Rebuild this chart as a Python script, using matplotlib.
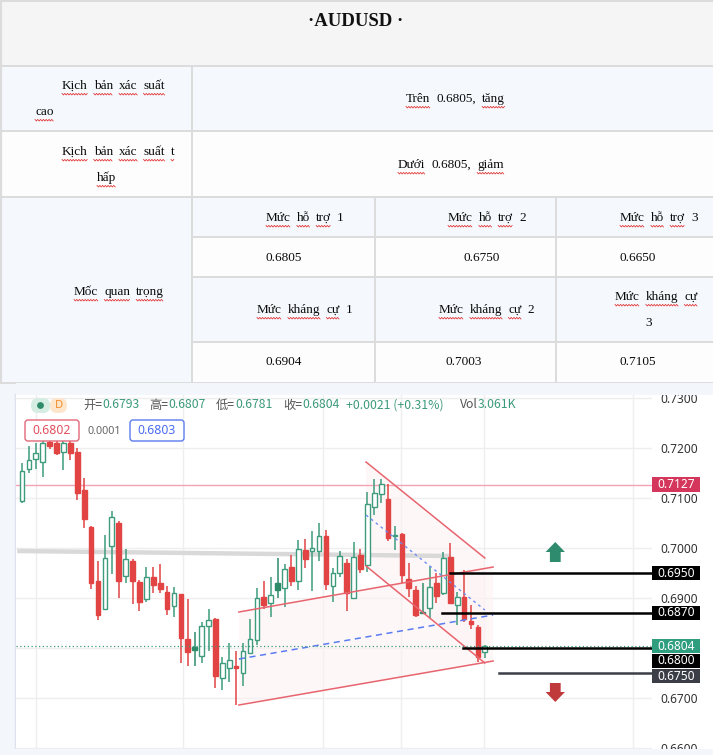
import numpy as np
import matplotlib
matplotlib.use("Agg")
import matplotlib.pyplot as plt
from matplotlib.patches import Rectangle, Polygon, FancyBboxPatch, Circle

W, H = 713, 755

# ---- table content ----
title = "·AUDUSD ·"
scen_high = ["Kịch", "bản", "xác", "suất"]
scen_high_2 = ["cao"]
scen_high_txt = ["Trên", "0.6805,", "tăng"]
scen_low = ["Kịch", "bản", "xác", "suất", "t"]
scen_low_2 = ["hấp"]
scen_low_txt = ["Dưới", "0.6805,", "giảm"]
key_label = ["Mốc", "quan", "trọng"]
support_names = ["Mức hỗ trợ 1", "Mức hỗ trợ 2", "Mức hỗ trợ 3"]
support_vals = ["0.6805", "0.6750", "0.6650"]
resist_names = ["Mức kháng cự 1", "Mức kháng cự 2", "Mức kháng cự"]
resist_vals = ["0.6904", "0.7003", "0.7105"]

# ---- daily candles (open, high, low, close) ----
opens = [.7094, .7158, .7178, .7172, .7212, .7210, .7192, .7210, .7192, .7116,
         .7042, .6934, .6878, .7004, .7050, .6944, .6974, .6932, .6898, .6942,
         .6930, .6912, .6884, .6908, .6818, .6802, .6784, .6844, .6858, .6740,
         .6760, .6764, .6750, .6790, .6816, .6902, .6890, .6930, .6920, .6962,
         .6934, .6996, .6994, .6994, .7024, .6924, .6950, .6970, .6900, .6986,
         .6966, .7082, .7108, .7098, .7024, .7028, .6938, .6916, .6872, .6880,
         .6930, .6910, .6982, .6886, .6902, .6854, .6842, .6793]
highs = [.7170, .7204, .7210, .7222, .7236, .7216, .7216, .7216, .7200, .7140,
         .7044, .6974, .7026, .7074, .7054, .6998, .6978, .6936, .6962, .6962,
         .6968, .6924, .6922, .6908, .6898, .6832, .6852, .6878, .6860, .6782,
         .6810, .6794, .6810, .6858, .6920, .6934, .6942, .6980, .6968, .6986,
         .7016, .7018, .7034, .7050, .7036, .6960, .6994, .6978, .7012, .6998,
         .7112, .7138, .7138, .7128, .7044, .7030, .6970, .6924, .6930, .6964,
         .6950, .6992, .7010, .6912, .6956, .6886, .6846, .6807]
lows = [.7090, .7150, .7158, .7142, .7198, .7186, .7156, .7176, .7096, .7040,
        .6918, .6856, .6876, .6948, .6900, .6930, .6888, .6874, .6892, .6910,
        .6910, .6866, .6862, .6770, .6764, .6764, .6770, .6794, .6720, .6716,
        .6732, .6686, .6724, .6788, .6806, .6878, .6862, .6900, .6882, .6924,
        .6916, .6960, .6914, .6974, .6916, .6892, .6942, .6874, .6900, .6950,
        .6952, .7066, .7090, .7014, .6996, .6930, .6902, .6862, .6868, .6860,
        .6890, .6906, .6888, .6846, .6852, .6838, .6772, .6781]
closes = [.7154, .7176, .7190, .7210, .7204, .7190, .7210, .7190, .7110, .7058,
          .6930, .6866, .6980, .7062, .6934, .6978, .6934, .6892, .6942, .6926,
          .6918, .6878, .6910, .6820, .6792, .6796, .6844, .6856, .6744, .6770,
          .6776, .6760, .6794, .6818, .6900, .6886, .6906, .6916, .6958, .6934,
          .6998, .6978, .7000, .7024, .6928, .6950, .6984, .6910, .6982, .6958,
          .7088, .7110, .7128, .7020, .7026, .6946, .6920, .6866, .6870, .6922,
          .6904, .6980, .6890, .6902, .6858, .6848, .6782, .6804]

ohlc_header = [("开=", "0.6793"), ("高=", "0.6807"), ("低=", "0.6781"), ("收=", "0.6804")]
change_txt = "+0.0021 (+0.31%)"
vol_txt = "3.061K"

price_ticks = [0.73, 0.72, 0.71, 0.70, 0.69, 0.67, 0.66]
grid_prices = [0.73, 0.72, 0.71, 0.70, 0.69, 0.68, 0.67, 0.66]
time_grid = [2.0, 23.3, 43.6, 54.8, 66.9, 88.4]

last_price = 0.6804
top_line = 0.7127
level_prices = [0.6950, 0.6870, 0.6800, 0.6750]
level_start = [61.9, 60.8, 63.8, 69.0]
gray_line = ([-0.7, 61.9], [0.6994, 0.6984])

# drawn channels: (x0, x1), (y0, y1)
asc_top = ([31.4, 68.2], [0.6872, 0.6962])
asc_bot = ([31.4, 68.2], [0.6686, 0.6774])
asc_mid = ([31.4, 68.2], [0.6778, 0.6866])
desc_top = ([49.8, 67.0], [0.7172, 0.6980])
desc_bot = ([49.8, 67.0], [0.6964, 0.6770])
desc_mid = ([49.8, 67.0], [0.7066, 0.6876])

GREEN = "#3f9b7d"
GREEN_F = "#2e8b6a"
RED = "#e24444"
SERIF = "Liberation Serif"
CJK = ["Noto Sans CJK SC", "DejaVu Sans"]

fig = plt.figure(figsize=(W / 100, H / 100), dpi=100)
fig.patch.set_facecolor("white")
bg = fig.add_axes([0, 0, 1, 1])
bg.set_xlim(0, W)
bg.set_ylim(H, 0)
bg.axis("off")
renderer = fig.canvas.get_renderer()

# ---- table backgrounds and borders ----
bg.add_patch(Rectangle((0, 0), W, 66, fc="#f5f5f5", ec="none"))
bg.add_patch(Rectangle((0, 66), W, 65, fc="#f5f9fd", ec="none"))
bg.add_patch(Rectangle((0, 131), W, 66, fc="#fdfdfd", ec="none"))
bg.add_patch(Rectangle((0, 197), 192, 186, fc="#f5f9fd", ec="none"))
bg.add_patch(Rectangle((192, 197), W - 192, 40, fc="#f5f9fd", ec="none"))
bg.add_patch(Rectangle((192, 237), W - 192, 40, fc="#fdfdfd", ec="none"))
bg.add_patch(Rectangle((192, 277), W - 192, 65, fc="#f5f9fd", ec="none"))
bg.add_patch(Rectangle((192, 342), W - 192, 41, fc="#fdfdfd", ec="none"))
bg.add_patch(Rectangle((0, 383), W, 12, fc="#f3f6fb", ec="none"))
bg.add_patch(Rectangle((0, 395), 16, 360, fc="#f3f6fb", ec="none"))
bg.add_patch(Rectangle((0, 749), W, 6, fc="#f3f6fb", ec="none"))

lc = "#dcdcdc"
for y in [1, 66, 131, 197, 383]:
    bg.plot([0, W], [y, y], color=lc, lw=1.4)
for y in [237, 277, 342]:
    bg.plot([192, W], [y, y], color=lc, lw=1.4)
bg.plot([1, 1], [0, 383], color=lc, lw=1.6)
bg.plot([192, 192], [66, 383], color=lc, lw=1.4)
for x in [375, 556]:
    bg.plot([x, x], [197, 383], color=lc, lw=1.4)
bg.plot([16, 16], [395, 749], color="#dde3ec", lw=2.5)


def squiggle(x0, x1, y):
    xs = np.arange(x0, x1 + 0.1, 1.4)
    ys = y + np.where(np.arange(len(xs)) % 2, 1.0, -0.6)
    bg.plot(xs, ys, color="#e02a2a", lw=0.55)


def words(x, y, items, under=True, size=9.5, gap=6):
    for w in items:
        t = bg.text(x, y, w, fontsize=size, family=SERIF, va="center",
                    ha="left", color="#0a0a0a")
        wpx = t.get_window_extent(renderer).width
        is_num = any(ch.isdigit() for ch in w)
        if under and not is_num:
            squiggle(x, x + wpx, y + 8)
        x += wpx + gap


bg.text(356, 21, title, fontsize=13.5, family=SERIF, weight="bold",
        ha="center", va="center", color="#111111")
words(62, 86, scen_high)
words(35, 112, scen_high_2)
words(406, 99, scen_high_txt)
words(62, 152, scen_low)
words(97, 178, scen_low_2)
words(398, 165, scen_low_txt)
words(74, 292, key_label)
for x, name in zip([266, 448, 620], support_names):
    words(x, 218, name.split(" "))
for x, v in zip([265, 464, 619], support_vals):
    words(x, 258, [v])
for x, name in zip([257, 439, 615], resist_names):
    words(x, 310 if x < 600 else 297, name.split(" "))
words(645, 323, ["3"])
for x, v in zip([265, 446, 619], resist_vals):
    words(x, 362, [v])

# ---- candlestick chart ----
ax = fig.add_axes([16 / W, 1 - 749 / H, (652 - 16) / W, (749 - 395) / H])
ax.set_xlim(-0.87, 91.2)
ax.set_ylim(0.6598, 0.7306)
for s in ax.spines.values():
    s.set_visible(False)
ax.set_xticks([])
ax.yaxis.tick_right()
ax.set_yticks(price_ticks)
ax.set_yticklabels([f"{p:.4f}" for p in price_ticks])
ax.tick_params(axis="y", length=0, pad=6, labelsize=8.6, labelcolor="#333333")
for lab in ax.get_yticklabels():
    lab.set_family("Noto Sans")

for p in grid_prices:
    ax.axhline(p, color="#eeeeee", lw=1, zorder=0)
for t in time_grid:
    ax.axvline(t, color="#eeeeee", lw=1, zorder=0)

# channel shading
for top_l, bot_l in [(asc_top, asc_bot), (desc_top, desc_bot)]:
    xs = top_l[0] + bot_l[0][::-1]
    ys = top_l[1] + bot_l[1][::-1]
    ax.add_patch(Polygon(list(zip(xs, ys)), fc="#fdf2f4", ec="none", alpha=0.6, zorder=0.5))

ax.plot(*gray_line, color="#d9d9d9", lw=3.2, zorder=1, solid_capstyle="butt")
ax.axhline(top_line, color="#f4a3b5", lw=1, zorder=1)

n = len(opens)
for i in range(n):
    o, h, l, c = opens[i], highs[i], lows[i], closes[i]
    up_day = i == 0 or c >= closes[i - 1]
    col = GREEN if up_day else RED
    hollow = c > o
    if up_day and not hollow:
        col = GREEN_F
    ax.vlines(i, l, h, color=col, lw=1.1, zorder=2)
    bot = min(o, c)
    hgt = max(abs(c - o), 0.00025)
    ax.add_patch(Rectangle((i - 0.34, bot), 0.68, hgt,
                           fc="white" if hollow else col, ec=col, lw=1.0, zorder=3))

for ln in [asc_top, asc_bot, desc_top, desc_bot]:
    ax.plot(*ln, color="#e8646e", lw=1.1, zorder=4)
ax.plot(*asc_mid, color="#5a7cf0", lw=1.1, ls=(0, (4, 3)), zorder=4)
ax.plot(*desc_mid, color="#6f8cf2", lw=1.0, ls=(0, (2, 2.5)), zorder=4)

ax.axhline(last_price, color=GREEN, lw=0.9, ls=(0, (1, 2)), zorder=4)
xr = ax.get_xlim()[1]
level_cols = ["black", "black", "black", "#3b3e46"]
for p, s, col in zip(level_prices, level_start, level_cols):
    ax.plot([s, xr], [p, p], color=col, lw=1.8, zorder=5, clip_on=False)

# arrows
cx = 77.2
ax.add_patch(Polygon([(cx - 1.4, 0.6992), (cx, 0.7012), (cx + 1.4, 0.6992),
                      (cx + 0.78, 0.6992), (cx + 0.78, 0.6972),
                      (cx - 0.78, 0.6972), (cx - 0.78, 0.6992)],
                     fc="#2e8b6e", ec="none", zorder=5))
ax.add_patch(Polygon([(cx - 1.4, 0.6712), (cx, 0.6692), (cx + 1.4, 0.6712),
                      (cx + 0.78, 0.6712), (cx + 0.78, 0.6730),
                      (cx - 0.78, 0.6730), (cx - 0.78, 0.6712)],
                     fc="#c0393b", ec="none", zorder=5))

# price labels on the right axis
ytr = ax.get_yaxis_transform()
box_w = 48 / 636
box_h = 0.0029


def price_box(center, text, fc):
    ax.add_patch(Rectangle((1.0, center - box_h / 2), box_w, box_h, transform=ytr,
                           fc=fc, ec="none", clip_on=False, zorder=6))
    ax.text(1.0 + box_w / 2, center, text, transform=ytr, ha="center", va="center",
            color="white", fontsize=8.6, family="Noto Sans", zorder=7, clip_on=False)


price_box(top_line, f"{top_line:.4f}", "#d4365c")
price_box(level_prices[0], f"{level_prices[0]:.4f}", "black")
price_box(level_prices[1], f"{level_prices[1]:.4f}", "black")
stack = [(last_price, "#2f9e7f"), (level_prices[2], "black"), (level_prices[3], "#3b3e46")]
prev = None
for p, fc in stack:
    c = p if prev is None else min(p, prev - box_h - 0.0001)
    price_box(c, f"{p:.4f}", fc)
    prev = c

# ---- header overlay ----
top = fig.add_axes([0, 0, 1, 1], zorder=10)
top.set_xlim(0, W)
top.set_ylim(H, 0)
top.axis("off")
top.patch.set_alpha(0)

top.add_patch(FancyBboxPatch((31, 398), 19, 15, boxstyle="round,pad=0,rounding_size=7",
                             fc="#d6ede4", ec="none"))
top.add_patch(Circle((40.5, 405.5), 3.4, fc="#2e8b6a", ec="none"))
top.add_patch(FancyBboxPatch((50, 398), 17, 15, boxstyle="round,pad=0,rounding_size=7",
                             fc="#fde6cc", ec="none"))
top.text(58.5, 405.5, "D", color="#f08c28", fontsize=8, weight="bold",
         ha="center", va="center", family="Noto Sans")

hx = [83, 149, 216, 283]
vx = [102, 168, 235, 302]
for (lab, val), x1, x2 in zip(ohlc_header, hx, vx):
    top.text(x1, 405, lab, color="#555555", fontsize=8.8, family=CJK, va="center")
    top.text(x2, 405, val, color="#3d9a7c", fontsize=8.8, family=CJK, va="center")
top.text(346, 405, change_txt, color="#3d9a7c", fontsize=8.8, family=CJK, va="center")
top.text(460, 405, "Vol", color="#555555", fontsize=8.8, family=CJK, va="center")
top.text(478, 405, vol_txt, color="#3d9a7c", fontsize=8.8, family=CJK, va="center")

top.add_patch(FancyBboxPatch((25, 420), 54, 21, boxstyle="round,pad=0,rounding_size=3",
                             fc="white", ec="#e26878", lw=1))
top.text(52, 431, "0.6802", color="#e0505e", fontsize=8.8, family="Noto Sans",
         ha="center", va="center")
top.text(104, 431, "0.0001", color="#666666", fontsize=7.8, family="Noto Sans",
         ha="center", va="center")
top.add_patch(FancyBboxPatch((130, 420), 54, 21, boxstyle="round,pad=0,rounding_size=3",
                             fc="white", ec="#5b7cf0", lw=1))
top.text(157, 431, "0.6803", color="#4a6cf0", fontsize=8.8, family="Noto Sans",
         ha="center", va="center")

top.add_patch(Rectangle((0, 749), W, 6, fc="#f3f6fb", ec="none"))
top.add_patch(Rectangle((16, 383), W - 16, 12, fc="#f3f6fb", ec="none"))

fig.savefig("out.png", dpi=100)
